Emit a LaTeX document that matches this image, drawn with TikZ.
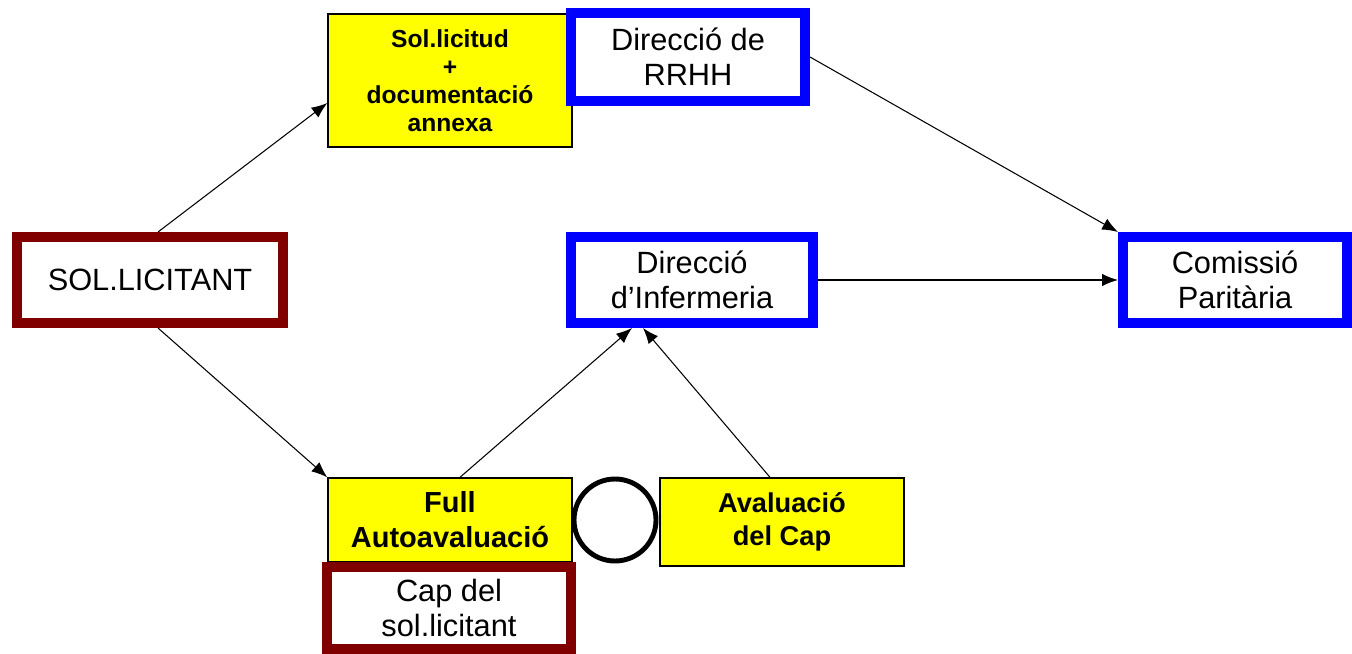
\documentclass[tikz,border=0pt]{standalone}
\usepackage{fontspec}
\setmainfont{Liberation Sans}
\usepackage{tikz}
\usetikzlibrary{positioning}
\usetikzlibrary{arrows.meta}

\definecolor{boxyellow}{RGB}{255,255,0}
\definecolor{boxblue}{RGB}{0,0,255}
\definecolor{boxred}{RGB}{128,0,0}

\begin{document}
\begin{tikzpicture}
    \tikzstyle{doc-block} = [draw=black, line width=0.8pt, fill=boxyellow, rectangle, align=center, inner sep=0pt, font=\bfseries];
    \tikzstyle{unit-block} = [draw=boxblue, line width=5.7pt, fill=white, rectangle, align=center, inner sep=0pt, font=\fontsize{17.5}{20}\selectfont];
    \tikzstyle{person-block} = [draw=boxred, line width=5.7pt, fill=white, rectangle, align=center, inner sep=0pt, font=\fontsize{17.5}{20}\selectfont];
    \tikzstyle{pointer} = [line width=0.6pt, -{Latex[length=9pt, width=7pt]}];

    \useasboundingbox (0, 0) rectangle (27.04, -13.08);

    \node (sollicitant) at (3.0, -5.6) [person-block, minimum width=5.32cm, minimum height=1.72cm] {SOL.LICITANT};

    \node (sollicitud) at (9.0, -1.61) [doc-block, minimum width=4.88cm, minimum height=2.66cm,
        font=\bfseries\fontsize{14}{16}\selectfont] {Sol.licitud\\+\\documentació\\annexa};
    \node (rrhh) at (13.76, -1.14) [unit-block, minimum width=4.68cm, minimum height=1.76cm] {Direcció de\\RRHH};

    \node (infermeria) at (13.84, -5.6) [unit-block, minimum width=4.84cm, minimum height=1.72cm] {Direcció\\d’Infermeria};
    \node (comissio) at (24.7, -5.6) [unit-block, minimum width=4.48cm, minimum height=1.72cm] {Comissió\\Paritària};

    \node (full) at (9.0, -10.4) [doc-block, minimum width=4.88cm, minimum height=1.68cm,
        font=\bfseries\fontsize{16.5}{20}\selectfont] {Full\\Autoavaluació};
    \node (enllac) at (12.3, -10.4) [draw, circle, line width=2.8pt, minimum size=1.64cm, inner sep=0pt] {};
    \node (avaluacio) at (15.64, -10.44) [doc-block, minimum width=4.88cm, minimum height=1.76cm,
        font=\bfseries\fontsize{15.5}{19}\selectfont] {Avaluació\\del Cap};
    \node (cap) at (8.98, -12.16) [person-block, minimum width=4.88cm, minimum height=1.64cm] {Cap del\\sol.licitant};

    \draw [pointer] ([xshift=0.16cm]sollicitant.north) -- ([yshift=-0.45cm]sollicitud.west);
    \draw [pointer] ([xshift=0.16cm]sollicitant.south) -- (full.north west);
    \draw [pointer] (rrhh.east) -- (comissio.north west);
    \draw [pointer] (infermeria.east) -- (comissio.west);
    \draw [pointer] ([xshift=0.2cm]full.north) -- ([xshift=-1.2cm]infermeria.south);
    \draw [pointer] ([xshift=-0.24cm]avaluacio.north) -- ([xshift=-0.98cm]infermeria.south);
\end{tikzpicture}
\end{document}
